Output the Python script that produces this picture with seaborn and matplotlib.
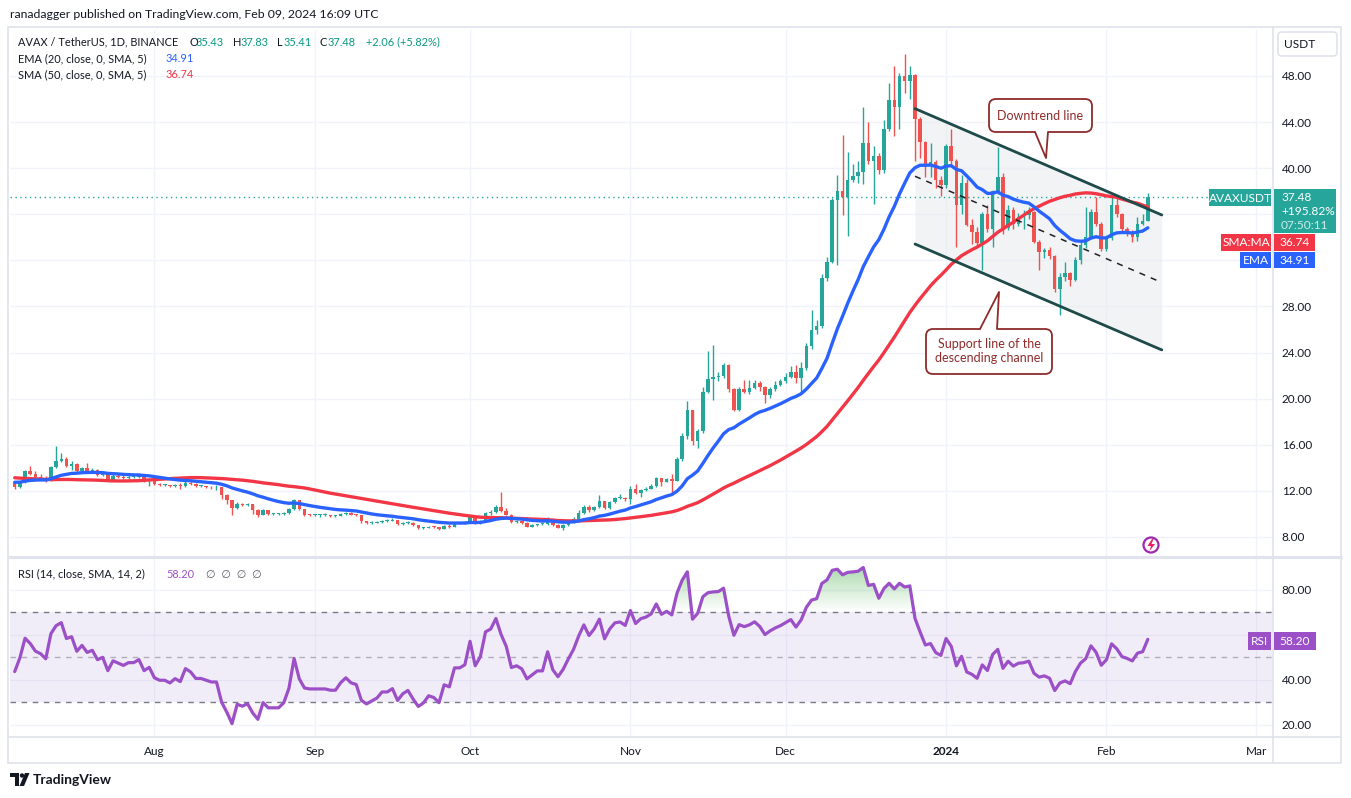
import matplotlib
matplotlib.use("Agg")
import matplotlib.pyplot as plt
import matplotlib.dates as mdates
import matplotlib.colors as mcolors
from matplotlib.patches import Rectangle, FancyBboxPatch, Polygon, Circle
from matplotlib.path import Path
from matplotlib.ticker import FuncFormatter
import numpy as np
import pandas as pd
import seaborn as sns

# daily AVAX/USDT candles 2023-07-05 .. 2024-02-09
first_open = 12.7
closes = [
    12.3, 12.8, 13.7, 13.5, 13.2, 13.1, 12.9, 14.1, 14.6, 14.8,
    14.2, 14.3, 13.7, 14.0, 13.7, 13.8, 13.4, 13.5, 12.9, 13.3,
    13.2, 13.1, 13.2, 13.2, 13.3, 12.9, 13.0, 12.6, 12.5, 12.5,
    12.4, 12.5, 12.4, 12.7, 12.6, 12.4, 12.4, 12.35, 12.3, 12.3,
    11.65, 11.2, 10.5, 10.9, 10.8, 10.85, 10.35, 9.93, 10.3, 10.0,
    10.0, 10.0, 10.1, 10.4, 11.2, 10.4, 9.95, 9.9, 9.9, 9.9,
    9.9, 9.85, 9.85, 10.0, 10.1, 9.95, 9.9, 9.35, 9.2, 9.25,
    9.3, 9.4, 9.4, 9.45, 9.1, 9.2, 9.25, 9.0, 8.75, 8.8,
    8.9, 8.85, 8.7, 8.95, 8.9, 9.2, 9.2, 9.25, 9.7, 9.2,
    9.4, 10.1, 10.2, 10.6, 10.25, 9.95, 9.3, 9.35, 9.25, 8.9,
    9.0, 9.1, 9.1, 9.6, 9.05, 8.8, 9.0, 9.3, 9.6, 10.1,
    10.6, 10.3, 10.6, 11.1, 10.5, 11.0, 11.35, 11.4, 11.3, 12.2,
    11.8, 12.1, 12.2, 12.4, 13.1, 12.8, 13.0, 12.9, 14.75, 16.8,
    19.0, 16.3, 17.2, 20.6, 21.7, 21.9, 22.0, 22.9, 20.8, 19.0,
    20.8, 20.6, 20.9, 21.4, 21.0, 20.3, 20.8, 21.2, 21.5, 21.9,
    22.3, 21.8, 22.7, 24.6, 26.0, 26.3, 30.5, 31.9, 37.2, 38.0,
    37.5, 39.0, 39.3, 39.7, 42.2, 40.6, 41.1, 39.8, 43.4, 45.9,
    45.3, 48.0, 47.6, 48.1, 44.3, 42.3, 40.2, 40.5, 39.0, 38.5,
    41.9, 40.6, 36.8, 38.7, 35.1, 34.5, 33.5, 36.0, 34.7, 38.0,
    39.2, 34.8, 36.4, 35.2, 35.8, 35.9, 36.2, 33.6, 32.7, 32.9,
    32.4, 29.5, 30.6, 30.9, 30.3, 32.0, 33.3, 34.0, 36.2, 35.2,
    33.0, 33.9, 36.8, 36.0, 34.7, 34.4, 34.0, 35.2, 35.43, 37.48,
]
highs = [
    12.85, 12.9, 13.85, 14.2, 13.75, 13.5, 13.3, 14.2, 15.9, 15.3,
    14.9, 14.6, 14.4, 14.1, 14.4, 14.0, 13.9, 13.6, 13.6, 13.5,
    13.5, 13.4, 13.35, 13.3, 13.45, 13.35, 13.1, 13.05, 12.7, 12.6,
    12.55, 12.6, 12.7, 12.85, 12.9, 12.65, 12.5, 12.45, 12.45, 12.5,
    12.35, 11.7, 11.25, 11.0, 10.95, 10.95, 10.9, 10.4, 10.45, 10.35,
    10.1, 10.1, 10.2, 10.5, 11.3, 11.25, 10.45, 10.0, 10.0, 10.0,
    10.05, 9.95, 9.95, 10.1, 10.2, 10.15, 10.0, 9.95, 9.4, 9.4,
    9.4, 9.5, 9.55, 9.65, 9.5, 9.3, 9.35, 9.3, 9.05, 8.9,
    8.95, 8.95, 8.9, 9.0, 9.1, 9.3, 9.3, 9.35, 9.8, 9.75,
    9.5, 10.2, 10.3, 10.8, 11.9, 10.5, 10.0, 9.45, 9.4, 9.3,
    9.1, 9.15, 9.2, 9.7, 9.65, 9.1, 9.1, 9.4, 9.75, 10.3,
    10.8, 10.75, 10.7, 11.6, 11.15, 11.1, 11.5, 11.7, 11.45, 12.4,
    12.6, 12.2, 12.3, 12.6, 13.2, 13.15, 13.1, 13.5, 14.9, 17.0,
    19.8, 19.05, 17.4, 21.0, 24.1, 24.7, 22.3, 23.1, 23.0, 20.9,
    21.0, 21.6, 21.6, 21.6, 21.5, 21.1, 21.0, 21.5, 21.7, 22.2,
    22.8, 22.9, 23.2, 24.8, 27.7, 26.8, 30.8, 32.3, 37.4, 39.4,
    42.9, 41.4, 40.4, 40.6, 45.3, 44.0, 41.9, 41.3, 44.2, 47.4,
    48.9, 48.3, 49.9, 48.9, 48.2, 44.4, 42.4, 42.2, 40.7, 39.3,
    42.1, 43.4, 40.8, 39.4, 39.1, 35.6, 34.9, 36.2, 36.8, 38.1,
    41.8, 39.6, 36.8, 36.6, 36.1, 36.4, 36.6, 36.3, 33.8, 33.1,
    33.2, 32.5, 30.9, 31.9, 31.0, 32.3, 33.8, 36.6, 36.5, 37.5,
    35.3, 34.2, 37.5, 37.6, 36.1, 34.9, 34.6, 35.8, 36.0, 37.83,
]
lows = [
    12.2, 12.25, 12.7, 13.4, 13.1, 13.0, 12.8, 12.85, 14.0, 14.5,
    14.1, 13.8, 13.6, 13.6, 13.6, 13.6, 13.3, 13.3, 12.85, 12.85,
    13.1, 13.0, 13.0, 13.1, 13.1, 12.8, 12.4, 12.5, 12.4, 12.4,
    12.3, 12.35, 12.2, 12.3, 12.5, 12.3, 12.3, 12.25, 12.2, 12.1,
    11.3, 10.9, 9.9, 10.4, 10.7, 10.7, 10.0, 9.7, 9.9, 9.9,
    9.9, 9.9, 9.95, 10.0, 10.35, 10.3, 9.85, 9.8, 9.8, 9.75,
    9.8, 9.75, 9.7, 9.8, 9.95, 9.9, 9.85, 9.25, 9.1, 9.1,
    9.2, 9.25, 9.3, 9.35, 9.0, 9.0, 9.15, 8.95, 8.7, 8.7,
    8.75, 8.75, 8.6, 8.65, 8.8, 8.85, 9.1, 9.15, 9.2, 9.1,
    9.15, 9.35, 9.95, 10.1, 10.15, 9.9, 9.2, 9.2, 9.15, 8.85,
    8.85, 8.95, 9.0, 9.05, 8.95, 8.75, 8.6, 8.95, 9.25, 9.55,
    10.0, 10.2, 10.25, 10.5, 10.4, 10.45, 10.95, 11.3, 11.1, 10.9,
    11.7, 11.5, 12.0, 12.15, 12.3, 12.4, 12.75, 11.8, 12.85, 14.6,
    16.5, 16.0, 15.7, 17.0, 20.5, 19.9, 21.5, 21.8, 20.6, 18.9,
    18.95, 20.5, 20.4, 20.8, 20.7, 19.6, 20.1, 20.7, 21.1, 21.4,
    21.8, 21.4, 20.6, 22.5, 24.3, 25.6, 26.1, 30.2, 31.8, 31.6,
    35.9, 34.1, 38.8, 38.7, 38.6, 40.4, 36.9, 39.5, 39.6, 43.2,
    42.8, 43.4, 46.5, 46.0, 40.6, 40.9, 39.2, 39.2, 38.3, 37.6,
    38.3, 40.3, 33.2, 36.0, 35.0, 33.4, 33.2, 31.2, 34.5, 33.2,
    37.8, 34.3, 34.6, 34.7, 35.0, 34.7, 35.6, 33.5, 31.2, 32.2,
    32.1, 29.3, 27.3, 30.2, 29.8, 30.2, 31.7, 33.1, 33.9, 35.0,
    32.8, 32.8, 33.8, 35.8, 34.5, 34.1, 33.6, 33.7, 35.1, 35.41,
]
# closes before the visible window, only used to seed EMA / SMA / RSI
warmup_closes = [
    14.5, 14.4, 14.6, 14.5, 14.4, 14.3, 14.5, 14.6, 14.3, 14.2,
    14.4, 14.6, 14.5, 14.3, 14.2, 14.3, 14.2, 14.4, 14.3, 14.1,
    13.4, 13.3, 12.9, 12.6, 12.8, 11.3, 11.2, 11.3, 11.2, 11.0,
    10.9, 11.3, 11.4, 11.5, 11.8, 12.2, 12.8, 13.4, 13.0, 13.1,
    12.9, 12.7, 12.6, 12.4, 12.6, 13.2, 13.1, 13.3, 13.6, 12.7,
]

month_ticks = ["2023-08-01", "2023-09-01", "2023-10-01", "2023-11-01",
               "2023-12-01", "2024-01-01", "2024-02-01", "2024-03-01"]
month_labels = ["Aug", "Sep", "Oct", "Nov", "Dec", "2024", "Feb", "Mar"]
price_ticks = [8, 12, 16, 20, 24, 28, 32, 36, 40, 44, 48]
rsi_ticks = [20, 40, 60, 80]
# tick labels hidden behind the last-value tags on the scale
covered_price = [32, 36]
covered_rsi = [60]

# descending channel: end points as (day index, price)
channel_days = [174.0, 221.7]
channel_upper = [45.17, 35.94]
channel_mid = [39.30, 30.08]
channel_lower = [33.42, 24.23]

UP, DOWN = "#26A69A", "#EF5350"
EMA_C, SMA_C, RSI_C = "#2962FF", "#F23645", "#9C50C8"
TXT, GRID, FRAME = "#131722", "#F0F3FA", "#E0E3EB"
NOTE = "#8E2B2B"

dates = pd.date_range("2023-07-05", periods=len(closes), freq="D")
opens = [first_open] + closes[:-1]
s = pd.Series(warmup_closes + closes, dtype=float)
n0 = len(warmup_closes)
delta = s.diff()
gain = delta.clip(lower=0).ewm(alpha=1 / 14, adjust=False).mean()
loss = (-delta.clip(upper=0)).ewm(alpha=1 / 14, adjust=False).mean()
df = pd.DataFrame({
    "date": dates, "open": opens, "high": highs, "low": lows, "close": closes,
    "ema": s.ewm(span=20, adjust=False).mean().to_numpy()[n0:],
    "sma": s.rolling(50, min_periods=1).mean().to_numpy()[n0:],
    "rsi": (100 - 100 / (1 + gain / loss)).to_numpy()[n0:],
})

sns.set_theme(style="white")
plt.rcParams["font.family"] = ["Lato", "DejaVu Sans"]

W, H = 1351, 798
fig = plt.figure(figsize=(W / 100, H / 100), dpi=100)
fig.patch.set_facecolor("white")


def rect(x0, y0, x1, y1):
    return [x0 / W, 1 - y1 / H, (x1 - x0) / W, (y1 - y0) / H]


ax = fig.add_axes(rect(10, 30, 1272, 556))
axr = fig.add_axes(rect(10, 558, 1272, 736), sharex=ax)

# candles
o = df["open"].to_numpy()
c = df["close"].to_numpy()
col = np.where(c >= o, UP, DOWN)
top = np.maximum(df["high"].to_numpy(), np.maximum(o, c))
bot = np.minimum(df["low"].to_numpy(), np.minimum(o, c))
ax.vlines(df["date"], bot, top, colors=col, linewidth=1, zorder=3)
ax.bar(df["date"], np.maximum(np.abs(c - o), 0.08), bottom=np.minimum(o, c),
       width=0.68, color=col, linewidth=0, zorder=4)

sns.lineplot(data=df, x="date", y="sma", ax=ax, color=SMA_C, linewidth=2.4,
             zorder=6, legend=False)
sns.lineplot(data=df, x="date", y="ema", ax=ax, color=EMA_C, linewidth=2.4,
             zorder=6, legend=False)

# channel
cx = dates[0] + pd.to_timedelta(channel_days, unit="D")
ax.fill_between(cx, channel_lower, channel_upper, color="#E9EBEF", alpha=0.6,
                linewidth=0, zorder=1)
ax.plot(cx, channel_upper, color="#1E4A4A", linewidth=2, zorder=7)
ax.plot(cx, channel_lower, color="#1E4A4A", linewidth=2, zorder=7)
ax.plot(cx, channel_mid, color="#222222", linewidth=1.1, ls=(0, (4, 4)), zorder=7)
ax.axhline(closes[-1], color=UP, linewidth=1, ls=(0, (1, 2.5)), zorder=2)

# RSI panel
axr.axhspan(30, 70, color="#7E57C2", alpha=0.1, linewidth=0, zorder=1)
for lvl, al in ((70, 1.0), (50, 0.55), (30, 1.0)):
    axr.axhline(lvl, color="#787B86", alpha=al, linewidth=1, ls=(0, (4, 4)), zorder=2)
sns.lineplot(data=df, x="date", y="rsi", ax=axr, color=RSI_C, linewidth=2.3,
             zorder=5, legend=False)


def grad_fill(axis, x, y, level, edge, rgb, amax, above):
    mask = y > level if above else y < level
    if not mask.any():
        return
    poly = axis.fill_between(x, y, level, where=mask, interpolate=True,
                             facecolor="none", linewidth=0)
    clip = Path.make_compound_path(*poly.get_paths())
    img = np.zeros((64, 1, 4))
    img[..., :3] = mcolors.to_rgb(rgb)
    img[:, 0, 3] = np.linspace(amax, 0, 64) if above else np.linspace(0, amax, 64)
    xn = mdates.date2num(x)
    lo, hi = (level, edge) if above else (edge, level)
    im = axis.imshow(img, extent=[xn[0], xn[-1], lo, hi], origin="upper",
                     aspect="auto", zorder=3, interpolation="bilinear")
    im.set_clip_path(clip, transform=axis.transData)


rv = df["rsi"].to_numpy()
dx = df["date"].to_numpy()
grad_fill(axr, dx, rv, 70, 96, "#4CAF50", 0.6, True)
grad_fill(axr, dx, rv, 30, 15, "#F23645", 0.35, False)


def scale_fmt(hidden):
    return FuncFormatter(lambda v, p: "" if round(v) in hidden else f"{v:.2f}")


for a, hidden in ((ax, covered_price), (axr, covered_rsi)):
    a.set_facecolor("white")
    for sp in a.spines.values():
        sp.set_visible(False)
    a.grid(True, color=GRID, linewidth=1)
    a.set_axisbelow(True)
    a.set_xlabel("")
    a.set_ylabel("")
    a.yaxis.tick_right()
    a.yaxis.set_major_formatter(scale_fmt(hidden))
    a.tick_params(axis="y", length=0, pad=7, labelsize=8.5, labelcolor=TXT)

ax.set_yticks(price_ticks)
ax.set_ylim(6.35, 51.99)
ax.tick_params(axis="x", length=0, labelbottom=False)

axr.set_yticks(rsi_ticks)
axr.set_ylim(15.1, 94.2)
axr.set_xticks(pd.to_datetime(month_ticks))
axr.set_xticklabels(month_labels)
axr.tick_params(axis="x", length=0, pad=7, labelsize=8.5, labelcolor=TXT)
axr.get_xticklabels()[5].set_fontweight("bold")
ax.set_xlim(mdates.date2num(dates[0]) - 0.91, mdates.date2num(dates[0]) + 243.0)

# overlay in pixel coordinates
ov = fig.add_axes([0, 0, 1, 1])
ov.set_xlim(0, W)
ov.set_ylim(H, 0)
ov.axis("off")

ov.add_patch(Rectangle((8, 27), 1333, 736, fill=False, ec=FRAME, lw=1.2))
ov.plot([1273, 1273], [27, 763], color=FRAME, lw=1.2)
ov.plot([8, 1341], [557, 557], color=FRAME, lw=2.2)
ov.plot([8, 1341], [737, 737], color=FRAME, lw=1.2)

ov.text(10, 15, "ranadagger published on TradingView.com, Feb 09, 2024 16:09 UTC",
        fontsize=8.8, color=TXT, va="center")


def txt(x, y, s, color=TXT, **kw):
    ov.text(x, y, s, color=color, fontsize=7.9, va="center", **kw)


TEAL = "#089981"
txt(18, 42, "AVAX / TetherUS, 1D, BINANCE")
for lab, xl, val, xv in (("O", 189, "35.43", 196), ("H", 233, "37.83", 241),
                         ("L", 277, "35.41", 284), ("C", 320, "37.48", 328)):
    txt(xl, 42, lab)
    txt(xv, 42, val, TEAL)
txt(366, 42, "+2.06 (+5.82%)", TEAL)
txt(18, 59, "EMA (20, close, 0, SMA, 5)")
txt(166, 59, "34.91", EMA_C)
txt(18, 75, "SMA (50, close, 0, SMA, 5)")
txt(166, 75, "36.74", SMA_C)
txt(18, 574, "RSI (14, close, SMA, 14, 2)")
txt(166, 574, "58.20", RSI_C)
txt(206, 574, "\u2205  \u2205  \u2205  \u2205", "#5D606B")

ov.add_patch(FancyBboxPatch((1278, 32), 59, 24, boxstyle="round,pad=0,rounding_size=4",
                            fc="white", ec=FRAME, lw=1.2))
ov.text(1300, 44.5, "USDT", fontsize=8.6, color=TXT, ha="center", va="center")


def tag(x0, y0, x1, y1, color, label=None):
    ov.add_patch(Rectangle((x0, y0), x1 - x0, y1 - y0, color=color, lw=0))
    if label:
        ov.text((x0 + x1) / 2, (y0 + y1) / 2 + 0.5, label, color="white",
                fontsize=8.6, ha="center", va="center")


tag(1209, 189, 1271, 206, UP, "AVAXUSDT")
tag(1274, 189, 1336, 233, UP)
ov.text(1281, 197.5, "37.48", color="white", fontsize=8.6, va="center")
ov.text(1281, 211.5, "+195.82%", color="white", fontsize=8.6, va="center")
ov.text(1281, 225.5, "07:50:11", color="#CDEDE9", fontsize=8.6, va="center")
tag(1221, 234, 1271, 251, SMA_C, "SMA:MA")
tag(1274, 234, 1315, 251, SMA_C, "36.74")
tag(1240, 252, 1271, 268, EMA_C, "EMA")
tag(1274, 252, 1315, 268, EMA_C, "34.91")
tag(1248, 632, 1271, 650, RSI_C, "RSI")
tag(1274, 632, 1316, 650, RSI_C, "58.20")


def callout(x0, y0, x1, y1, base, tip, lines):
    ov.add_patch(FancyBboxPatch((x0, y0), x1 - x0, y1 - y0,
                                boxstyle="round,pad=0,rounding_size=7",
                                fc="white", ec=NOTE, lw=1.3, zorder=5))
    (bx1, by), (bx2, _) = base
    inner = by + (1.5 if by == y0 else -1.5)
    ov.add_patch(Polygon([(bx1, inner), tip, (bx2, inner)], closed=True,
                         fc="white", ec="none", zorder=6))
    ov.plot([bx1, tip[0], bx2], [by, tip[1], by], color=NOTE, lw=1.3, zorder=7)
    cy = (y0 + y1) / 2
    n = len(lines)
    for i, line in enumerate(lines):
        ov.text((x0 + x1) / 2, cy + (i - (n - 1) / 2) * 14, line, color=NOTE,
                fontsize=9, ha="center", va="center", zorder=8)


callout(989, 99, 1092, 132, [(1035, 132), (1048, 132)], (1046, 158),
        ["Downtrend line"])
callout(926, 329, 1052, 374, [(980, 329), (997, 329)], (999, 292),
        ["Support line of the", "descending channel"])

# small alert icon
ov.add_patch(Circle((1151, 545), 7.5, fill=False, ec="#9C27B0", lw=1.6))
ov.add_patch(Polygon([(1152, 539), (1147.5, 546), (1151, 546), (1149.5, 551),
                      (1155, 544), (1151.5, 544), (1153.5, 539)],
                     closed=True, fc="#E91E63", ec="none"))

# footer logo
ov.add_patch(Polygon([(10, 773), (19, 773), (19, 786), (15, 786), (15, 777), (10, 777)],
                     closed=True, fc=TXT, ec="none"))
ov.add_patch(Circle((22, 775.5), 2.2, fc=TXT, ec="none"))
ov.add_patch(Polygon([(19.5, 786), (25, 773), (29.5, 773), (24, 786)],
                     closed=True, fc=TXT, ec="none"))
ov.text(33, 779.5, "TradingView", fontsize=10, fontweight="bold", color=TXT,
        va="center")

fig.savefig("out.png", dpi=100, facecolor="white")
